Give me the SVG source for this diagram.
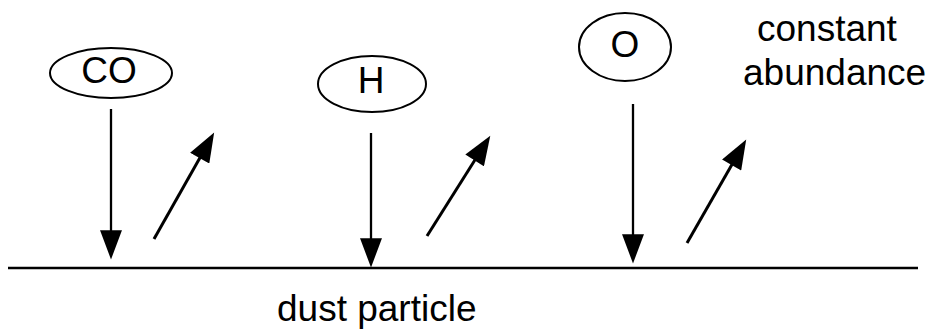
<svg xmlns="http://www.w3.org/2000/svg" width="927" height="331" viewBox="0 0 927 331">
<style>
.node ellipse{fill:#fff;stroke:#000;stroke-width:2}
text{font-family:"Liberation Sans",Arial,sans-serif;fill:#000}
.lbl{font-size:37px;text-anchor:middle}
.big{font-size:37px}
.v{stroke:#000;stroke-width:2.3;fill:none}
.d{stroke:#000;stroke-width:3;fill:none}
</style>
<defs>
<marker id="ah" markerUnits="userSpaceOnUse" markerWidth="30" markerHeight="22" viewBox="0 0 28 21" refX="18" refY="10.5" orient="auto">
<path d="M0,0 L28,10.5 L0,21 z" fill="#000"/>
</marker>
</defs>
<g id="surface"><line x1="8" y1="268" x2="918" y2="268" stroke="#000" stroke-width="2.5"/></g>
<g id="node-co" class="node"><ellipse cx="111" cy="73" rx="61" ry="25"/><text class="lbl" x="109" y="83">CO</text></g>
<g id="node-h" class="node"><ellipse cx="372" cy="84" rx="54" ry="28"/><text class="lbl" x="371" y="93">H</text></g>
<g id="node-o" class="node"><ellipse cx="625" cy="47" rx="46" ry="34"/><text class="lbl" x="625" y="57">O</text></g>
<g id="connectors">
<line class="v" x1="111" y1="109" x2="111" y2="249" marker-end="url(#ah)"/>
<line class="v" x1="371" y1="133" x2="371" y2="257" marker-end="url(#ah)"/>
<line class="v" x1="633" y1="104" x2="633" y2="253" marker-end="url(#ah)"/>
<line class="d" x1="154" y1="239" x2="209" y2="141.7" marker-end="url(#ah)"/>
<line class="d" x1="427" y1="236" x2="484.7" y2="144.5" marker-end="url(#ah)"/>
<line class="d" x1="687" y1="243" x2="741" y2="148.7" marker-end="url(#ah)"/>
</g>
<g id="labels">
<text class="big" x="757" y="41">constant</text>
<text class="big" x="743" y="85">abundance</text>
<text class="big" x="277" y="321">dust particle</text>
</g>
</svg>
